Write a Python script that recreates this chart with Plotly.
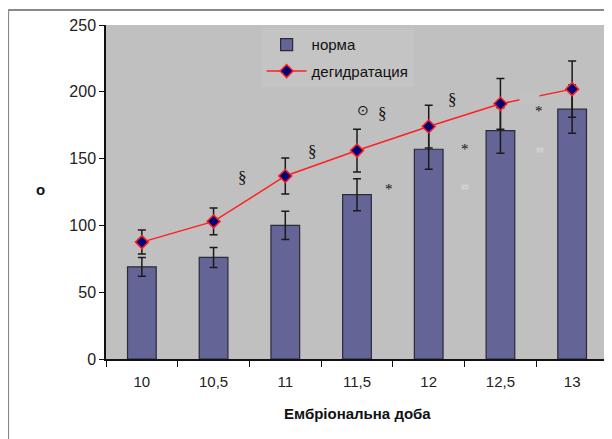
import plotly.graph_objects as go

days = ["10", "10,5", "11", "11,5", "12", "12,5", "13"]
norma = [69, 76, 100, 123, 157, 171, 187]
norma_err = [7, 7.5, 10.5, 12, 15, 17, 18]
dehydr = [87.5, 103, 137, 156, 174, 191, 202]
dehydr_err = [9, 10, 13.5, 16, 16, 19, 21]

# significance marks: (category index position, value, text)
mark_x = [1.40, 2.375, 3.08, 3.35, 4.33, 3.45, 4.50, 5.54]
mark_y = [135.5, 155, 186, 183.5, 194.5, 127.5, 157.5, 186]
mark_t = ["§", "§", "⊙", "§", "§", "*", "*", "*"]

fig = go.Figure()
fig.add_trace(go.Bar(
    x=days, y=norma, name="норма", width=0.4, legendgroup="a",
    marker=dict(color="#646496", line=dict(color="#2a2a3a", width=1.2)),
    error_y=dict(type="data", array=norma_err, color="#1a1a1a", thickness=1.5, width=4),
))
fig.add_trace(go.Scatter(
    x=days, y=dehydr, name="дегидратация", mode="lines+markers", legendgroup="b",
    line=dict(color="#ff2020", width=1.5),
    marker=dict(symbol="diamond", size=10, color="#00007a", line=dict(color="#ff2020", width=1.5)),
    error_y=dict(type="data", array=dehydr_err, color="#1a1a1a", thickness=1.5, width=4),
))

annots = []
for x, y, t in zip(mark_x, mark_y, mark_t):
    annots.append(dict(x=x, y=y, xref="x", yref="y", text=t, showarrow=False,
                       font=dict(family="Liberation Serif, Times New Roman, serif",
                                 size=17 if t == "§" else (14 if t == "⊙" else 15),
                                 color="#111111")))
# light box hiding part of the line between 12,5 and 13
annots.append(dict(x=5.41, y=195.4, xref="x", yref="y", text=" ", showarrow=False,
                   width=19, height=10, borderpad=0, bgcolor="#c2c2c2",
                   font=dict(size=4)))
# tiny light dots
for x, y in [(4.50, 128.5), (5.55, 156.6)]:
    annots.append(dict(x=x, y=y, xref="x", yref="y", text="·", showarrow=False,
                       width=6, height=4, borderpad=0, bgcolor="#cfcfcf",
                       font=dict(size=6, color="#8888aa")))
# axis titles
annots.append(dict(x=0.5, y=-0.162, xref="paper", yref="paper", text="<b>Ембріональна доба</b>",
                   xanchor="center", yanchor="middle",
                   showarrow=False, font=dict(size=15, color="#111111")))
annots.append(dict(x=-0.131, y=0.506, xref="paper", yref="paper", text="<b>o</b>",
                   xanchor="center", yanchor="middle",
                   showarrow=False, font=dict(size=15, color="#111111")))

fig.update_layout(
    width=604, height=431,
    margin=dict(l=98, r=4, t=17, b=80),
    paper_bgcolor="white",
    plot_bgcolor="#c0c0c0",
    font=dict(family="Liberation Sans, Arial, sans-serif", size=15, color="#222222"),
    showlegend=True,
    legend=dict(x=0.31, y=0.99, xanchor="left", yanchor="top", traceorder="grouped",
                bgcolor="#c4c4c4", font=dict(size=15, color="#111111"),
                tracegroupgap=4, itemwidth=40),
    annotations=annots,
    shapes=[
        dict(type="line", xref="paper", yref="paper", x0=-0.195, x1=1.02, y0=1.045, y1=1.045,
             line=dict(color="#888888", width=2)),
        dict(type="line", xref="paper", yref="paper", x0=-0.195, x1=-0.195, y0=1.045, y1=-0.3,
             line=dict(color="#888888", width=2)),
    ],
)
fig.update_xaxes(
    type="category", tickson="boundaries", ticks="outside", ticklen=6, tickcolor="#111111",
    showline=True, linecolor="#111111", linewidth=1.5, showgrid=False, automargin=False,
    tickfont=dict(size=15, color="#222222"), ticklabelstandoff=8,
)
fig.update_yaxes(
    range=[0, 250], dtick=50, ticks="outside", ticklen=5, tickcolor="#111111",
    showline=True, linecolor="#111111", linewidth=1.5, showgrid=False, zeroline=False,
    automargin=False, tickfont=dict(size=16, color="#222222"),
)

fig.write_html("out.html")
